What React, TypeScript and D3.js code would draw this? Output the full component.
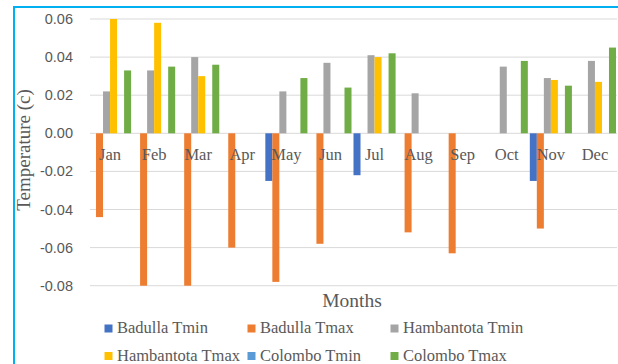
import { useEffect, useRef } from "react";
import * as d3 from "d3";

const months = ["Jan", "Feb", "Mar", "Apr", "May", "Jun", "Jul", "Aug", "Sep", "Oct", "Nov", "Dec"];

const seriesNames = [
  "Badulla Tmin",
  "Badulla Tmax",
  "Hambantota Tmin",
  "Hambantota Tmax",
  "Colombo Tmin",
  "Colombo Tmax",
];

const badullaTmin = [0, 0, 0, 0, -0.025, 0, -0.022, 0, 0, 0, -0.025, 0];
const badullaTmax = [-0.044, -0.08, -0.08, -0.06, -0.078, -0.058, 0, -0.052, -0.063, 0, -0.05, 0];
const hambantotaTmin = [0.022, 0.033, 0.04, 0, 0.022, 0.037, 0.041, 0.021, 0, 0.035, 0.029, 0.038];
const hambantotaTmax = [0.06, 0.058, 0.03, 0, 0, 0, 0.04, 0, 0, 0, 0.028, 0.027];
const colomboTmin = [0, 0, 0, 0, 0, 0, 0, 0, 0, 0, 0, 0];
const colomboTmax = [0.033, 0.035, 0.036, 0, 0.029, 0.024, 0.042, 0, 0, 0.038, 0.025, 0.045];

const yTicks = [0.06, 0.04, 0.02, 0, -0.02, -0.04, -0.06, -0.08];

const colors = ["#4472C4", "#ED7D31", "#A5A5A5", "#FFC000", "#5B9BD5", "#70AD47"];

const App = () => {
  const svgRef = useRef(null);

  useEffect(() => {
    const width = 618;
    const height = 364;
    const svg = d3.select(svgRef.current);
    svg.selectAll("*").remove();
    svg.attr("width", width).attr("height", height);

    const allSeries = [badullaTmin, badullaTmax, hambantotaTmin, hambantotaTmax, colomboTmin, colomboTmax];

    const serif = "'Liberation Serif', 'Times New Roman', serif";
    const sans = "'Liberation Sans', Arial, sans-serif";
    const textColor = "#595959";

    svg.append("rect").attr("width", width).attr("height", height).attr("fill", "white");

    const x0 = d3.scaleBand().domain(months).range([89, 616]).paddingInner(0.045).paddingOuter(0);
    const x1 = d3.scaleBand().domain(seriesNames).range([0, x0.bandwidth()]);
    const y = d3.scaleLinear().domain([-0.08, 0.06]).range([285.7, 19]);

    // gridlines
    svg
      .append("g")
      .selectAll("line")
      .data(yTicks)
      .enter()
      .append("line")
      .attr("x1", 90)
      .attr("x2", 617)
      .attr("y1", (d) => y(d))
      .attr("y2", (d) => y(d))
      .attr("stroke", "#d9d9d9")
      .attr("stroke-width", 1);

    // tick labels (plain hyphen like excel)
    svg
      .append("g")
      .selectAll("text")
      .data(yTicks)
      .enter()
      .append("text")
      .attr("x", 73)
      .attr("y", (d) => y(d))
      .attr("dy", "0.35em")
      .attr("text-anchor", "end")
      .attr("font-family", sans)
      .attr("font-size", "14.5px")
      .attr("fill", textColor)
      .text((d) => d.toFixed(2));

    // bars
    const groups = svg
      .append("g")
      .selectAll("g")
      .data(months)
      .enter()
      .append("g")
      .attr("transform", (d) => `translate(${x0(d)},0)`);

    groups
      .selectAll("rect")
      .data((m, i) => seriesNames.map((s, j) => ({ s, j, v: allSeries[j][i] })))
      .enter()
      .append("rect")
      .attr("x", (d) => x1(d.s) as number)
      .attr("width", x1.bandwidth())
      .attr("y", (d) => y(Math.max(0, d.v)))
      .attr("height", (d) => Math.abs(y(d.v) - y(0)))
      .attr("fill", (d) => colors[d.j]);

    // month labels
    svg
      .append("g")
      .selectAll("text")
      .data(months)
      .enter()
      .append("text")
      .attr("x", (d) => (x0(d) as number) + x0.bandwidth() / 2)
      .attr("y", 160)
      .attr("text-anchor", "middle")
      .attr("font-family", serif)
      .attr("font-size", "16.5px")
      .attr("fill", textColor)
      .text((d) => d);

    // axis titles
    svg
      .append("text")
      .attr("transform", "translate(29.5,150) rotate(-90)")
      .attr("text-anchor", "middle")
      .attr("font-family", serif)
      .attr("font-size", "19px")
      .attr("fill", textColor)
      .text("Temperature (c)");

    svg
      .append("text")
      .attr("x", 352)
      .attr("y", 306.5)
      .attr("text-anchor", "middle")
      .attr("font-family", serif)
      .attr("font-size", "19.5px")
      .attr("fill", textColor)
      .text("Months");

    // legend
    const legend = svg
      .append("g")
      .selectAll("g")
      .data(seriesNames)
      .enter()
      .append("g")
      .attr("transform", (d, i) => `translate(${104.5 + (i % 3) * 143},${324.5 + Math.floor(i / 3) * 27.5})`);

    legend
      .append("rect")
      .attr("width", 8)
      .attr("height", 8)
      .attr("fill", (d, i) => colors[i]);

    legend
      .append("text")
      .attr("x", 12.5)
      .attr("y", 8.5)
      .attr("font-family", serif)
      .attr("font-size", "16.5px")
      .attr("fill", textColor)
      .text((d) => d);

    // frame
    svg
      .append("path")
      .attr("d", `M14,${height} L14,7 L${width},7`)
      .attr("fill", "none")
      .attr("stroke", "#00B0F0")
      .attr("stroke-width", 2);
  }, []);

  return <svg ref={svgRef} style={{ position: "absolute", left: 0, top: 0 }}></svg>;
};

export default App;
